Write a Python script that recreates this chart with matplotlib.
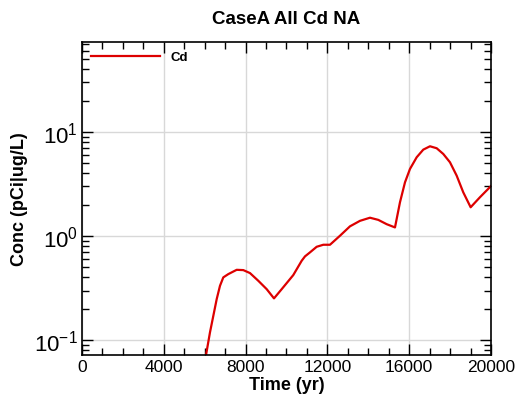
import numpy as np
import matplotlib
matplotlib.use("Agg")
import matplotlib.pyplot as plt
from matplotlib.ticker import LogLocator, MultipleLocator

plt.rcParams['font.family'] = ['Liberation Sans', 'DejaVu Sans']
plt.rcParams['mathtext.fontset'] = 'custom'
plt.rcParams['mathtext.rm'] = 'Liberation Sans'
plt.rcParams['mathtext.it'] = 'Liberation Sans'

# data
time_yr = [5800, 6064, 6259, 6421, 6587, 6748, 6910, 7154, 7320, 7565,
           7888, 8215, 8621, 9032, 9389, 9765, 10332, 10743, 10905, 11149,
           11477, 11800, 12127, 12616, 13105, 13594, 14083, 14489, 14900,
           15306, 15550, 15795, 16039, 16367, 16690, 17017, 17345, 17668,
           17995, 18323, 18645, 19006, 19462, 20000]
conc_cd = [0.035, 0.0718, 0.119, 0.171, 0.248, 0.333, 0.401, 0.431, 0.448, 0.474,
           0.471, 0.441, 0.372, 0.309, 0.252, 0.309, 0.422, 0.579, 0.638, 0.697,
           0.789, 0.825, 0.825, 1.007, 1.24, 1.40, 1.50, 1.43, 1.30,
           1.21, 2.11, 3.28, 4.41, 5.71, 6.76, 7.28, 6.97, 6.14,
           5.11, 3.80, 2.63, 1.89, 2.36, 3.02]

fig = plt.figure(figsize=(5.19, 4.02), dpi=100)
ax = fig.add_axes([0.158, 0.114, 0.788, 0.779])

ax.plot(time_yr, conc_cd, color='#dd0000', lw=1.6, label='Cd')

ax.set_yscale('log')
ax.set_xlim(0, 20000)
ax.set_ylim(0.0718, 73)

ax.xaxis.set_major_locator(MultipleLocator(4000))
ax.xaxis.set_minor_locator(MultipleLocator(1000))
ax.yaxis.set_major_locator(LogLocator(base=10, numticks=10))
ax.yaxis.set_minor_locator(LogLocator(base=10, subs=np.arange(2, 10), numticks=10))

ax.grid(True, which='major', color='#d8d8d8', lw=1)
ax.set_axisbelow(True)

ax.tick_params(which='both', direction='in', top=True, right=True, width=1)
ax.tick_params(which='major', length=8)
ax.tick_params(which='minor', length=5)
ax.tick_params(axis='x', labelsize=12.5, pad=3)
ax.tick_params(axis='y', labelsize=16, pad=3)
for s in ax.spines.values():
    s.set_linewidth(1.2)

ax.set_xlabel('Time (yr)', fontsize=13, fontweight='bold', labelpad=1)
ax.set_ylabel('Conc (pCi|ug/L)', fontsize=13, fontweight='bold', labelpad=4)
ax.set_title('CaseA All Cd NA', fontsize=13.5, fontweight='bold', pad=14)

leg = ax.legend(loc='upper left', frameon=False, handlelength=5.2,
                prop={'weight': 'bold', 'size': 9.5}, borderaxespad=0.3,
                handletextpad=0.8)

fig.savefig('out.png', dpi=100)
